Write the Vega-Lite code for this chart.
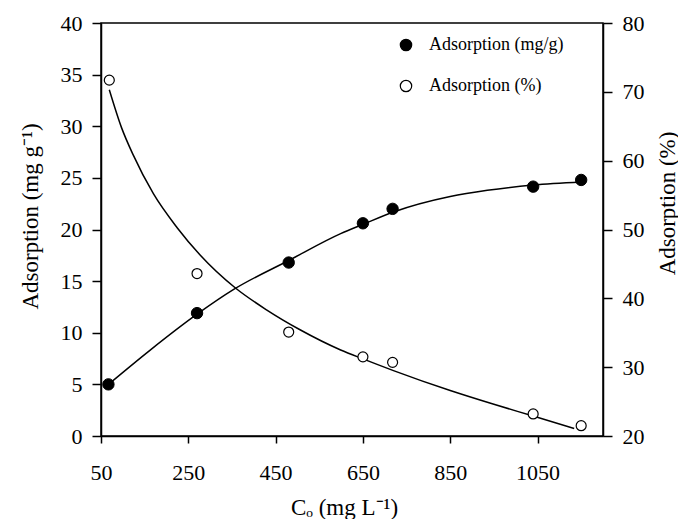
{
  "$schema": "https://vega.github.io/schema/vega-lite/v6.json",
  "width": 502,
  "height": 413,
  "autosize": {"type": "none"},
  "padding": {"left": 101, "top": 23, "right": 75, "bottom": 83},
  "background": "white",
  "config": {
    "font": "Liberation Serif",
    "view": {"stroke": "black", "strokeWidth": 1.5},
    "axis": {
      "grid": false,
      "domainColor": "black",
      "domainWidth": 1.5,
      "tickColor": "black",
      "tickWidth": 1.5,
      "labelColor": "black",
      "titleColor": "black",
      "labelFont": "Liberation Serif",
      "titleFont": "Liberation Serif",
      "labelFontSize": 22,
      "titleFontSize": 23,
      "titleFontWeight": "normal"
    }
  },
  "data": {
    "values": [
      {"series": "Adsorption (mg/g)", "kind": "obs", "x": 67, "y": 5.0},
      {"series": "Adsorption (mg/g)", "kind": "obs", "x": 270, "y": 11.9},
      {"series": "Adsorption (mg/g)", "kind": "obs", "x": 480, "y": 16.8},
      {"series": "Adsorption (mg/g)", "kind": "obs", "x": 650, "y": 20.6},
      {"series": "Adsorption (mg/g)", "kind": "obs", "x": 718, "y": 22.0},
      {"series": "Adsorption (mg/g)", "kind": "obs", "x": 1040, "y": 24.15},
      {"series": "Adsorption (mg/g)", "kind": "obs", "x": 1150, "y": 24.8},
      {"series": "Adsorption (%)", "kind": "obs", "x": 69, "y": 71.7},
      {"series": "Adsorption (%)", "kind": "obs", "x": 270, "y": 43.6},
      {"series": "Adsorption (%)", "kind": "obs", "x": 480, "y": 35.1},
      {"series": "Adsorption (%)", "kind": "obs", "x": 650, "y": 31.5},
      {"series": "Adsorption (%)", "kind": "obs", "x": 718, "y": 30.7},
      {"series": "Adsorption (%)", "kind": "obs", "x": 1040, "y": 23.2},
      {"series": "Adsorption (%)", "kind": "obs", "x": 1150, "y": 21.5},
      {"series": "Adsorption (mg/g)", "kind": "fit", "x": 67, "y": 5.0},
      {"series": "Adsorption (mg/g)", "kind": "fit", "x": 162, "y": 8.3},
      {"series": "Adsorption (mg/g)", "kind": "fit", "x": 270, "y": 11.8},
      {"series": "Adsorption (mg/g)", "kind": "fit", "x": 354, "y": 14.2},
      {"series": "Adsorption (mg/g)", "kind": "fit", "x": 480, "y": 17.0},
      {"series": "Adsorption (mg/g)", "kind": "fit", "x": 599, "y": 19.6},
      {"series": "Adsorption (mg/g)", "kind": "fit", "x": 650, "y": 20.5},
      {"series": "Adsorption (mg/g)", "kind": "fit", "x": 720, "y": 21.7},
      {"series": "Adsorption (mg/g)", "kind": "fit", "x": 850, "y": 23.2},
      {"series": "Adsorption (mg/g)", "kind": "fit", "x": 935, "y": 23.8},
      {"series": "Adsorption (mg/g)", "kind": "fit", "x": 1040, "y": 24.3},
      {"series": "Adsorption (mg/g)", "kind": "fit", "x": 1150, "y": 24.6},
      {"series": "Adsorption (%)", "kind": "fit", "x": 69, "y": 70.3},
      {"series": "Adsorption (%)", "kind": "fit", "x": 97, "y": 64.8},
      {"series": "Adsorption (%)", "kind": "fit", "x": 124, "y": 60.8},
      {"series": "Adsorption (%)", "kind": "fit", "x": 170, "y": 55.2},
      {"series": "Adsorption (%)", "kind": "fit", "x": 224, "y": 50.3},
      {"series": "Adsorption (%)", "kind": "fit", "x": 277, "y": 46.3},
      {"series": "Adsorption (%)", "kind": "fit", "x": 358, "y": 41.5},
      {"series": "Adsorption (%)", "kind": "fit", "x": 430, "y": 38.3},
      {"series": "Adsorption (%)", "kind": "fit", "x": 507, "y": 35.4},
      {"series": "Adsorption (%)", "kind": "fit", "x": 599, "y": 32.5},
      {"series": "Adsorption (%)", "kind": "fit", "x": 650, "y": 31.2},
      {"series": "Adsorption (%)", "kind": "fit", "x": 720, "y": 29.5},
      {"series": "Adsorption (%)", "kind": "fit", "x": 850, "y": 26.6},
      {"series": "Adsorption (%)", "kind": "fit", "x": 950, "y": 24.6},
      {"series": "Adsorption (%)", "kind": "fit", "x": 1040, "y": 22.9},
      {"series": "Adsorption (%)", "kind": "fit", "x": 1134, "y": 21.1}
    ]
  },
  "encoding": {
    "x": {
      "field": "x",
      "type": "quantitative",
      "scale": {"domain": [50, 1200], "nice": false, "zero": false},
      "axis": {
        "values": [50, 250, 450, 650, 850, 1050],
        "format": "d",
        "title": "Cₒ  (mg L⁻¹)",
        "tickSize": 7,
        "labelPadding": 19,
        "labelFlush": false,
        "titleX": 243,
        "titleY": 71,
        "titleBaseline": "middle"
      }
    }
  },
  "layer": [
    {
      "transform": [{"filter": "datum.series === 'Adsorption (mg/g)'"}],
      "encoding": {
        "y": {
          "field": "y",
          "type": "quantitative",
          "scale": {"domain": [0, 40], "nice": false},
          "axis": {
            "orient": "left",
            "values": [0, 5, 10, 15, 20, 25, 30, 35, 40],
            "title": "Adsorption (mg g⁻¹)",
            "tickSize": 9,
            "labelPadding": 10,
            "titleAngle": -90,
            "titleBaseline": "alphabetic",
            "titleX": -64,
            "titleY": 193
          }
        }
      },
      "layer": [
        {
          "transform": [{"filter": "datum.kind === 'fit'"}],
          "mark": {"type": "line", "color": "black", "strokeWidth": 1.5, "interpolate": "monotone"}
        },
        {
          "transform": [{"filter": "datum.kind === 'obs'"}],
          "mark": {"type": "point", "shape": "circle", "filled": true, "size": 130, "stroke": "black", "strokeWidth": 1, "opacity": 1},
          "encoding": {
            "fill": {
              "field": "series",
              "type": "nominal",
              "scale": {"domain": ["Adsorption (mg/g)", "Adsorption (%)"], "range": ["black", "white"]},
              "legend": {
                "title": null,
                "orient": "none",
                "legendX": 296,
                "legendY": 13,
                "symbolType": "circle",
                "symbolSize": 130,
                "symbolStrokeColor": "black",
                "symbolStrokeWidth": 1.2,
                "symbolOpacity": 1,
                "labelFont": "Liberation Serif",
                "labelFontSize": 18,
                "labelColor": "black",
                "labelOffset": 14,
                "rowPadding": 23,
                "padding": 0
              }
            }
          }
        }
      ]
    },
    {
      "transform": [{"filter": "datum.series === 'Adsorption (%)'"}],
      "encoding": {
        "y": {
          "field": "y",
          "type": "quantitative",
          "scale": {"domain": [20, 80], "nice": false, "zero": false},
          "axis": {
            "orient": "right",
            "values": [20, 30, 40, 50, 60, 70, 80],
            "title": "Adsorption (%)",
            "tickSize": 9,
            "labelPadding": 10,
            "titleAngle": -90,
            "titleBaseline": "alphabetic",
            "titleX": 71,
            "titleY": 180
          }
        }
      },
      "layer": [
        {
          "transform": [{"filter": "datum.kind === 'fit'"}],
          "mark": {"type": "line", "color": "black", "strokeWidth": 1.5, "interpolate": "monotone"}
        },
        {
          "transform": [{"filter": "datum.kind === 'obs'"}],
          "mark": {"type": "point", "shape": "circle", "filled": true, "size": 100, "stroke": "black", "strokeWidth": 1.2, "opacity": 1},
          "encoding": {
            "fill": {
              "field": "series",
              "type": "nominal",
              "scale": {"domain": ["Adsorption (mg/g)", "Adsorption (%)"], "range": ["black", "white"]}
            }
          }
        }
      ]
    }
  ],
  "resolve": {"scale": {"y": "independent"}}
}
